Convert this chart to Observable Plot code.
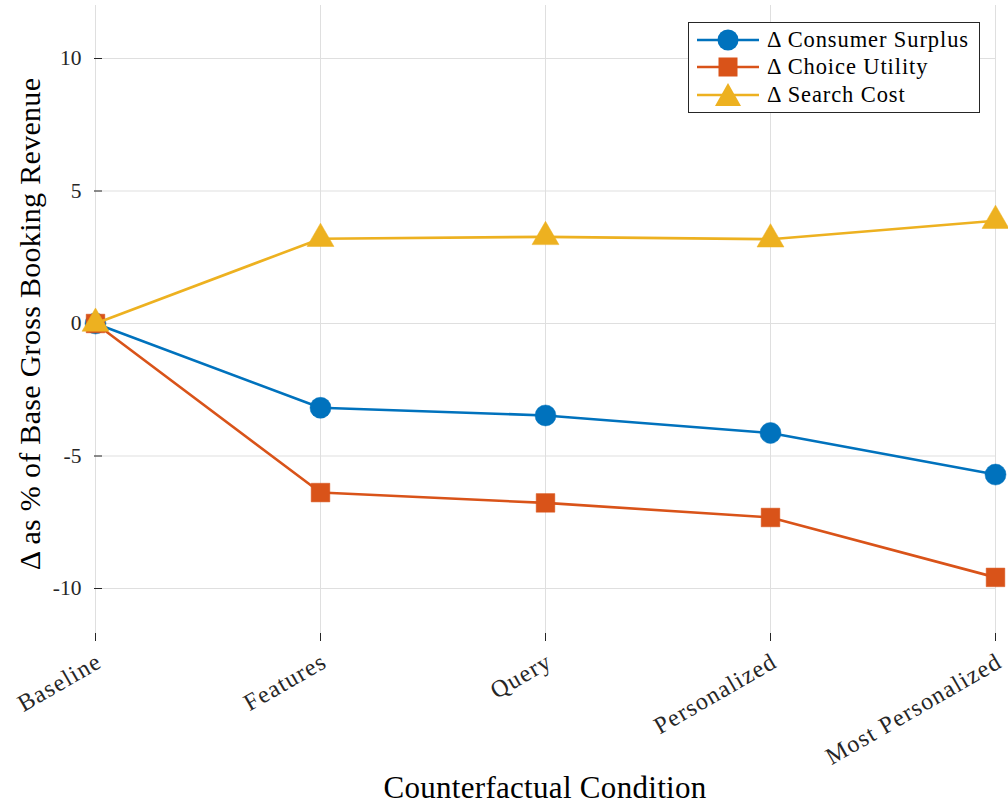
<!DOCTYPE html>
<html><head><meta charset="utf-8">
<script src="https://cdn.jsdelivr.net/npm/d3@7"></script>
<script src="https://cdn.jsdelivr.net/npm/@observablehq/plot@0.6"></script>
<style>
body{margin:0;background:#fff;}
#wrap{position:relative;width:1008px;height:810px;font-family:"Liberation Serif","DejaVu Serif",serif;}
#legend{position:absolute;left:688px;top:22px;width:292px;height:91px;border:1px solid #262626;background:#fff;box-sizing:border-box;}
.li{position:absolute;left:0;height:27px;display:flex;align-items:center;font-size:22.5px;color:#000;letter-spacing:0.9px;}
.li svg{margin-left:8px;margin-right:8px;}
#xlabel{position:absolute;left:94px;width:902px;top:772px;text-align:center;font-size:31px;line-height:1;letter-spacing:0.3px;}
#ylabel{position:absolute;left:30px;top:324px;transform:translate(-50%,-50%) rotate(-90deg);white-space:nowrap;font-size:30px;line-height:1;letter-spacing:0.3px;}
svg g[aria-label="x-axis tick label"] text{letter-spacing:1.2px;}
</style></head>
<body><div id="wrap"></div>
<script>
const conditions = ["Baseline","Features","Query","Personalized","Most Personalized"];
const consumerSurplus = [0, -3.18, -3.47, -4.13, -5.7];
const choiceUtility = [0, -6.38, -6.77, -7.32, -9.58];
const searchCost = [0, 3.2, 3.27, 3.18, 3.88];
const seriesNames = ["Δ Consumer Surplus","Δ Choice Utility","Δ Search Cost"];
const seriesColors = ["#0072BD","#D95319","#EDB120"];
const seriesSymbols = ["circle","square","triangle"];
const yTicks = [-10,-5,0,5,10];

const allSeries = [consumerSurplus, choiceUtility, searchCost];
const rows = [];
allSeries.forEach((vals, si) => vals.forEach((v, i) => rows.push({cond: conditions[i], value: v, series: seriesNames[si]})));

const W = 1008, H = 810, ML = 94, MR = 12, MT = 5, MB = 169;
const fnt = "'Liberation Serif','DejaVu Serif',serif";

const marks = [
  Plot.gridY(yTicks, {stroke: "#dfdfdf", strokeOpacity: 1}),
  Plot.gridX(conditions, {stroke: "#dfdfdf", strokeOpacity: 1}),
  Plot.tickY(yTicks, {y: d => d, insetRight: W - ML - MR - 8, stroke: "#262626"}),
  Plot.tickX(conditions, {x: d => d, insetTop: H - MT - MB - 8, stroke: "#262626"}),
  Plot.axisY(yTicks, {tickSize: 0, tickPadding: 13, fontSize: 21.5, label: null, line: true, stroke: "#262626", color: "#262626", tickFormat: d => String(d)}),
  Plot.axisX(conditions, {tickSize: 0, tickRotate: -30, tickPadding: 18, dx: 4, fontSize: 24, label: null, line: true, stroke: "#262626", color: "#262626"})
];
seriesNames.forEach((name, si) => {
  const data = rows.filter(r => r.series === name);
  marks.push(Plot.line(data, {x: "cond", y: "value", stroke: seriesColors[si], strokeWidth: 2.6}));
  marks.push(Plot.dot(data, {x: "cond", y: "value", fill: seriesColors[si], stroke: seriesColors[si], strokeWidth: 0.5, symbol: seriesSymbols[si], r: si === 2 ? 10 : 10.5}));
});

const chart = Plot.plot({
  width: W, height: H,
  marginLeft: ML, marginRight: MR, marginTop: MT, marginBottom: MB,
  style: {fontFamily: fnt, background: "transparent", overflow: "visible"},
  x: {type: "point", domain: conditions, padding: 0, axis: null},
  y: {domain: [-12, 12], axis: null},
  marks
});
const wrap = document.getElementById("wrap");
wrap.appendChild(chart);

const yl = document.createElement("div"); yl.id = "ylabel"; yl.textContent = "Δ as % of Base Gross Booking Revenue"; wrap.appendChild(yl);
const xl = document.createElement("div"); xl.id = "xlabel"; xl.textContent = "Counterfactual Condition"; wrap.appendChild(xl);

const lg = document.createElement("div"); lg.id = "legend"; wrap.appendChild(lg);
seriesNames.forEach((name, si) => {
  const it = document.createElement("div"); it.className = "li"; it.style.top = (3 + si * 27.5) + "px";
  const c = seriesColors[si];
  let sym;
  if (si === 0) sym = `<circle cx="31" cy="13" r="10.5" fill="${c}"/>`;
  else if (si === 1) sym = `<rect x="21.5" y="3.5" width="19" height="19" fill="${c}"/>`;
  else sym = `<path d="M31,1 L44,24 L18,24 Z" fill="${c}"/>`;
  it.innerHTML = `<svg width="62" height="26"><line x1="0" y1="13" x2="62" y2="13" stroke="${c}" stroke-width="2.6"/>${sym}</svg><span>${name}</span>`;
  lg.appendChild(it);
});
</script></body></html>
